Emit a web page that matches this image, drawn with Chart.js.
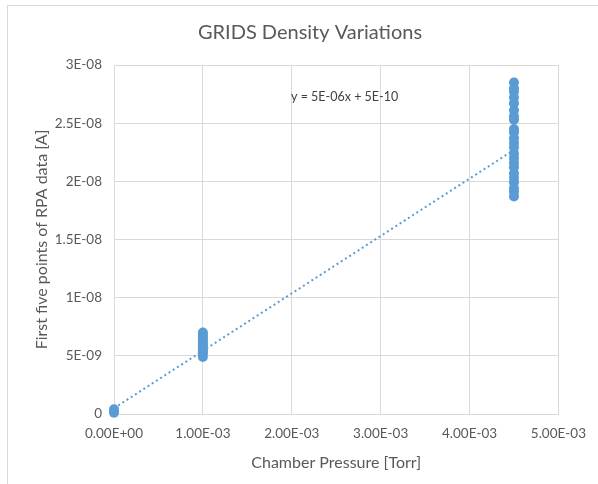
<!DOCTYPE html>
<html>
<head>
<meta charset="utf-8">
<script src="https://cdn.jsdelivr.net/npm/chart.js@4.4.1/dist/chart.umd.min.js"></script>
<style>
  body { margin: 0; background: #fff; }
  #wrap { position: relative; width: 598px; height: 484px; }
  #frame { position: absolute; left: 7px; top: 5px; right: -2px; bottom: -2px; border: 1px solid #d9d9d9; }
  canvas { position: absolute; left: 0; top: 0; }
</style>
</head>
<body>
<div id="wrap">
  <div id="frame"></div>
  <canvas id="chart" width="598" height="484"></canvas>
</div>
<script>
// chamber pressures [Torr] where data was taken
const pressures = [0, 1.0e-3, 4.5e-3];

// first five points of RPA data [A] at each pressure
const currentAtZero = [4e-10, 1e-10];
const currentAt1e3 = [7.0e-9, 6.8e-9, 6.6e-9, 6.4e-9, 6.2e-9, 6.0e-9, 5.8e-9, 5.6e-9, 5.4e-9, 5.2e-9, 4.9e-9];
const currentAt45e3 = [2.85e-8, 2.80e-8, 2.77e-8, 2.72e-8, 2.67e-8, 2.61e-8, 2.56e-8, 2.53e-8, 2.45e-8,
  2.42e-8, 2.37e-8, 2.33e-8, 2.29e-8, 2.24e-8, 2.20e-8, 2.16e-8, 2.12e-8, 2.07e-8, 2.03e-8,
  1.99e-8, 1.94e-8, 1.91e-8, 1.87e-8];

// linear trendline (Excel): y = 5E-06x + 5E-10
const trendX = [0, 4.5e-3];
const trendY = [5e-10, 2.27e-8];
const trendLabel = 'y = 5E-06x + 5E-10';
const chartTitle = 'GRIDS Density Variations';

const yTicks = [0, 5e-9, 1e-8, 1.5e-8, 2e-8, 2.5e-8, 3e-8];
const xTicks = [0, 1e-3, 2e-3, 3e-3, 4e-3, 5e-3];

const points = [];
[currentAtZero, currentAt1e3, currentAt45e3].forEach(function(vals, i) {
  vals.forEach(function(v) { points.push({ x: pressures[i], y: v }); });
});
const trend = trendX.map(function(x, i) { return { x: x, y: trendY[i] }; });

function sci(v, digits) {
  let s = v.toExponential(digits);
  let parts = s.split('e');
  let m = parts[0];
  let e = parseInt(parts[1], 10);
  let sign = e < 0 ? '-' : '+';
  let ee = String(Math.abs(e)).padStart(2, '0');
  return m + 'E' + sign + ee;
}

const grey = '#595959';
const gridColor = '#d9d9d9';
const blue = '#5B9BD5';
const fontFamily = 'Lato, "Open Sans", sans-serif';

// chart title and trendline equation
const textPlugin = {
  id: 'chartText',
  afterDatasetsDraw(chart) {
    const ctx = chart.ctx;
    ctx.save();
    ctx.textBaseline = 'middle';
    ctx.font = '20px ' + fontFamily;
    ctx.fillStyle = grey;
    ctx.textAlign = 'center';
    ctx.fillText(chartTitle, 310, 33);
    ctx.font = '12.5px ' + fontFamily;
    ctx.fillStyle = '#404040';
    ctx.textAlign = 'left';
    ctx.fillText(trendLabel, 291, 97);
    ctx.restore();
  }
};

new Chart(document.getElementById('chart'), {
  type: 'scatter',
  data: {
    datasets: [{
      label: 'RPA data',
      data: points,
      backgroundColor: blue,
      borderColor: blue,
      borderWidth: 0,
      pointRadius: 5,
      clip: false,
      order: 0
    }, {
      type: 'line',
      label: 'Linear trend',
      data: trend,
      borderColor: blue,
      borderWidth: 2,
      borderDash: [2, 3],
      pointRadius: 0,
      fill: false,
      order: 1
    }]
  },
  options: {
    responsive: false,
    animation: false,
    layout: { padding: { left: 0, right: 35, top: 65, bottom: 0 } },
    plugins: {
      legend: { display: false },
      tooltip: { enabled: false },
      title: { display: false }
    },
    scales: {
      x: {
        type: 'linear',
        min: 0,
        max: 5e-3,
        afterBuildTicks: function(scale) { scale.ticks = xTicks.map(function(v) { return { value: v }; }); },
        afterFit: function(scale) { scale.height = 70; },
        ticks: {
          color: grey,
          font: { family: fontFamily, size: 13.5 },
          padding: 12,
          maxRotation: 0,
          callback: function(v) { return sci(v, 2); }
        },
        grid: { color: gridColor, drawTicks: false },
        border: { color: gridColor },
        title: {
          display: true,
          text: 'Chamber Pressure [Torr]',
          color: grey,
          font: { family: fontFamily, size: 16 },
          padding: { top: 4, bottom: 12 }
        }
      },
      y: {
        type: 'linear',
        min: 0,
        max: 3e-8,
        afterBuildTicks: function(scale) { scale.ticks = yTicks.map(function(v) { return { value: v }; }); },
        afterFit: function(scale) { scale.width = 114; },
        ticks: {
          color: grey,
          font: { family: fontFamily, size: 13.5 },
          padding: 12,
          callback: function(v) { return v === 0 ? '0' : sci(v, 1).replace('.0E', 'E'); }
        },
        grid: { color: gridColor, drawTicks: false },
        border: { color: gridColor },
        title: {
          display: true,
          text: 'First five points of RPA data [A]',
          color: grey,
          font: { family: fontFamily, size: 16 },
          padding: { top: 32, bottom: 0 }
        }
      }
    }
  },
  plugins: [textPlugin]
});
</script>
</body>
</html>
